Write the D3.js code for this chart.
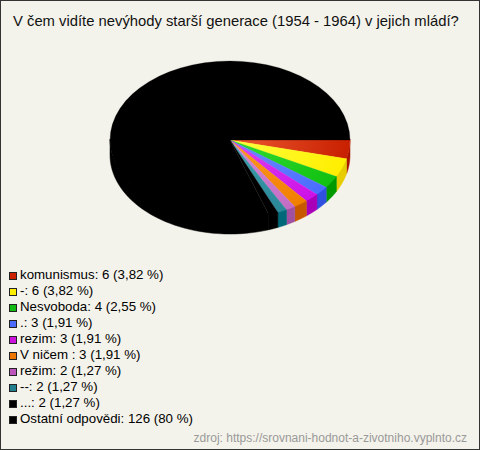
<!DOCTYPE html>
<html><head><meta charset="utf-8">
<script src="https://cdn.jsdelivr.net/npm/d3@7"></script>
<style>
html,body{margin:0;padding:0;background:#fff;}
svg{display:block;}
</style></head>
<body>
<script>
const titleText = "V čem vidíte nevýhody starší generace (1954 - 1964) v jejich mládí?";
const labels = ["komunismus", "-", "Nesvoboda", ".", "rezim", "V ničem ", "režim", "--", "...", "Ostatní odpovědi"];
const values = [6, 6, 4, 3, 3, 3, 2, 2, 2, 126];
const percents = ["3,82 %", "3,82 %", "2,55 %", "1,91 %", "1,91 %", "1,91 %", "1,27 %", "1,27 %", "1,27 %", "80 %"];
const topLight = ["#ec5a32", "#ffff40", "#33dd33", "#6f8cff", "#dd44f4", "#ff9a22", "#d68ad6", "#3fa0b0", "#000000", "#000000"];
const topColors = ["#c82000", "#ffee00", "#11c011", "#4a6cff", "#cc11e6", "#f07f00", "#c46cc4", "#2a8898", "#000000", "#000000"];
const sideColors = ["#a81200", "#e6cc00", "#009900", "#3050e0", "#a800b8", "#c85800", "#a050a0", "#006878", "#000000", "#000000"];
const swatchColors = ["#cc2200", "#ffee00", "#11bb11", "#4a6cff", "#cc11dd", "#ee7700", "#bb55bb", "#227f8f", "#000000", "#000000"];
const sourceText = "zdroj: https://srovnani-hodnot-a-zivotniho.vyplnto.cz";

const W = 480, H = 450;
const svg = d3.select("body").append("svg").attr("width", W).attr("height", H);
svg.append("rect").attr("x", 0.5).attr("y", 0.5).attr("width", W - 1).attr("height", H - 1)
  .attr("fill", "#f4f3eb").attr("stroke", "#333").attr("stroke-width", 1);

svg.append("text").attr("x", 13).attr("y", 25.5).text(titleText)
  .attr("font-family", "Liberation Sans, Arial, sans-serif").attr("font-size", 14.8).attr("fill", "#111");

const cx = 230, cy = 140, rx = 120, ry = 79, depth = 15;
const pie = d3.pie().sort(null).value(d => d)(values);

const defs = svg.append("defs");
topColors.forEach((c, i) => {
  const g = defs.append("radialGradient").attr("id", "g" + i)
    .attr("gradientUnits", "userSpaceOnUse").attr("cx", 0).attr("cy", 0).attr("r", rx);
  g.append("stop").attr("offset", "0%").attr("stop-color", topLight[i]);
  g.append("stop").attr("offset", "100%").attr("stop-color", c);
});

// side walls (front half only)
const pt = (t, dy) => [cx + rx * Math.cos(t), cy + ry * Math.sin(t) + dy];
const sideG = svg.append("g");
pie.forEach((p, i) => {
  const a0 = Math.max(p.startAngle, 0), a1 = Math.min(p.endAngle, Math.PI);
  if (a1 <= a0) return;
  const n = 40, top = [], bot = [];
  for (let k = 0; k <= n; k++) {
    const t = a0 + (a1 - a0) * k / n;
    top.push(pt(t, -1)); bot.push(pt(t, depth));
  }
  const poly = top.concat(bot.reverse());
  sideG.append("path").attr("d", d3.line()(poly) + "Z")
    .attr("fill", sideColors[i]).attr("stroke", sideColors[i]).attr("stroke-width", 0.5);
});

// top surface
const arc = d3.arc().innerRadius(0).outerRadius(rx)
  .startAngle(d => d.startAngle + Math.PI / 2).endAngle(d => d.endAngle + Math.PI / 2);
const topG = svg.append("g").attr("transform", `translate(${cx},${cy}) scale(1,${ry / rx})`);
topG.selectAll("path").data(pie).join("path")
  .attr("d", arc).attr("fill", (d, i) => `url(#g${i})`)
  .attr("stroke", (d, i) => topColors[i]).attr("stroke-width", 0.3);

// legend
const lg = svg.append("g").attr("font-family", "Liberation Sans, Arial, sans-serif").attr("font-size", 13.3);
labels.forEach((l, i) => {
  const yb = 279 + i * 16;
  lg.append("rect").attr("x", 9.5).attr("y", yb - 6.5).attr("width", 7).attr("height", 7)
    .attr("fill", swatchColors[i]).attr("stroke", "#222").attr("stroke-width", 1);
  lg.append("text").attr("x", 20).attr("y", yb).attr("fill", "#000")
    .text(`${l}: ${values[i]} (${percents[i]})`);
});

svg.append("text").attr("x", 467).attr("y", 442).attr("text-anchor", "end")
  .attr("font-family", "Liberation Sans, Arial, sans-serif").attr("font-size", 12)
  .attr("fill", "#999").text(sourceText);
</script>
</body></html>
